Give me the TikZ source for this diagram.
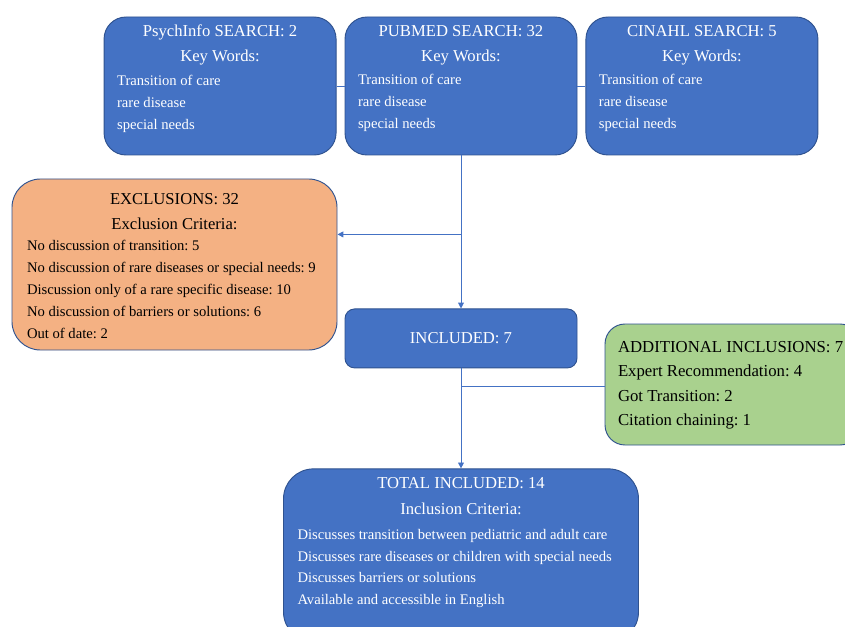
\documentclass[tikz,border=0pt]{standalone}
\usepackage{fontspec}
\setmainfont{Liberation Serif}
\usetikzlibrary{calc, positioning, arrows.meta}
\frenchspacing

\definecolor{boxblue}{HTML}{4472C4}
\definecolor{boxline}{HTML}{2F528F}
\definecolor{linkblue}{HTML}{4472C4}
\definecolor{exclorange}{HTML}{F4B183}
\definecolor{addgreen}{HTML}{A9D18E}

\newcommand{\boxhead}[1]{{\centering\fontsize{14.2}{21.5}\selectfont #1\par}}
\newcommand{\boxbody}{\raggedright\fontsize{12.5}{18.6}\selectfont}
\newcommand{\boxcontent}[3]{\parbox[c][#2][t]{#1}{#3}}

\begin{document}
\begin{tikzpicture}[
  search/.style={draw=boxline, line width=0.8pt, fill=boxblue, text=white,
    rounded corners=0.66cm, inner xsep=0.39cm, inner ysep=0.24cm},
  excl/.style={search, fill=exclorange, text=black, rounded corners=0.85cm,
    inner xsep=0.45cm, inner ysep=0.42cm},
  addbox/.style={search, fill=addgreen, text=black, rounded corners=0.6cm,
    inner xsep=0.39cm, inner ysep=0.52cm},
  link/.style={draw=linkblue, line width=0.7pt},
  tip/.style={-{Triangle[length=5pt,width=5pt]}}
]
  \useasboundingbox (0,0) rectangle (25.35,18.78);
  \clip (0,0) rectangle (25.35,18.78);

  % Search boxes
  \node[search] (pubmed) at (13.83,16.2) {\boxcontent{6.18cm}{3.66cm}{%
    \boxhead{PUBMED SEARCH: 32\\Key Words:}\vspace{1.5pt}%
    \boxbody Transition of care\\rare disease\\special needs}};
  \node[search, left=0.24cm of pubmed] (psych) {\boxcontent{6.18cm}{3.66cm}{%
    \boxhead{PsychInfo SEARCH: 2\\Key Words:}\vspace{1.5pt}%
    \boxbody Transition of care\\rare disease\\special needs}};
  \node[search, right=0.24cm of pubmed] (cinahl) {\boxcontent{6.18cm}{3.66cm}{%
    \boxhead{CINAHL SEARCH: 5\\Key Words:}\vspace{1.5pt}%
    \boxbody Transition of care\\rare disease\\special needs}};

  % Included after screening
  \node[search, below=4.59cm of pubmed, rounded corners=0.29cm,
    minimum width=6.96cm, minimum height=1.77cm,
    font=\fontsize{14.2}{17}\selectfont] (incl) {INCLUDED: 7};

  % Exclusions
  \node[excl] (excl) at (5.235,10.845) {\boxcontent{8.85cm}{4.29cm}{%
    \boxhead{EXCLUSIONS: 32\\Exclusion Criteria:}%
    \boxbody No discussion of transition: 5\\
    No discussion of rare diseases or special needs: 9\\
    Discussion only of a rare specific disease: 10\\
    No discussion of barriers or solutions: 6\\
    Out of date: 2}};

  % Additional inclusions (runs off the right edge)
  \node[addbox] (add) at (21.975,7.245) {\boxcontent{6.87cm}{2.59cm}{%
    \raggedright\fontsize{14.3}{20.8}\selectfont ADDITIONAL INCLUSIONS: 7\\
    Expert Recommendation: 4\\Got Transition: 2\\Citation chaining: 1}};

  % Total
  \node[search, below=3cm of incl, rounded corners=0.9cm,
    inner xsep=0.42cm, inner ysep=0.27cm] (total) {\boxcontent{9.81cm}{4.65cm}{%
    \boxhead{TOTAL INCLUDED: 14\\Inclusion Criteria:}%
    \vspace{3pt}%
    \boxbody Discusses transition between pediatric and adult care\\
    Discusses rare diseases or children with special needs\\
    Discusses barriers or solutions\\
    Available and accessible in English}};

  % Connectors
  \draw[link] (psych) -- (pubmed);
  \draw[link] (pubmed) -- (cinahl);
  \draw[link, tip] (pubmed) -- (incl);
  \coordinate (exclj) at ($(pubmed.south)!0.516!(incl.north)$);
  \draw[link, tip] (exclj) -- (exclj -| excl.east);
  \draw[link, tip] (incl) -- (total);
  \coordinate (addj) at ($(incl.south)!0.18!(total.north)$);
  \draw[link] (addj) -- (addj -| add.west);
\end{tikzpicture}
\end{document}
